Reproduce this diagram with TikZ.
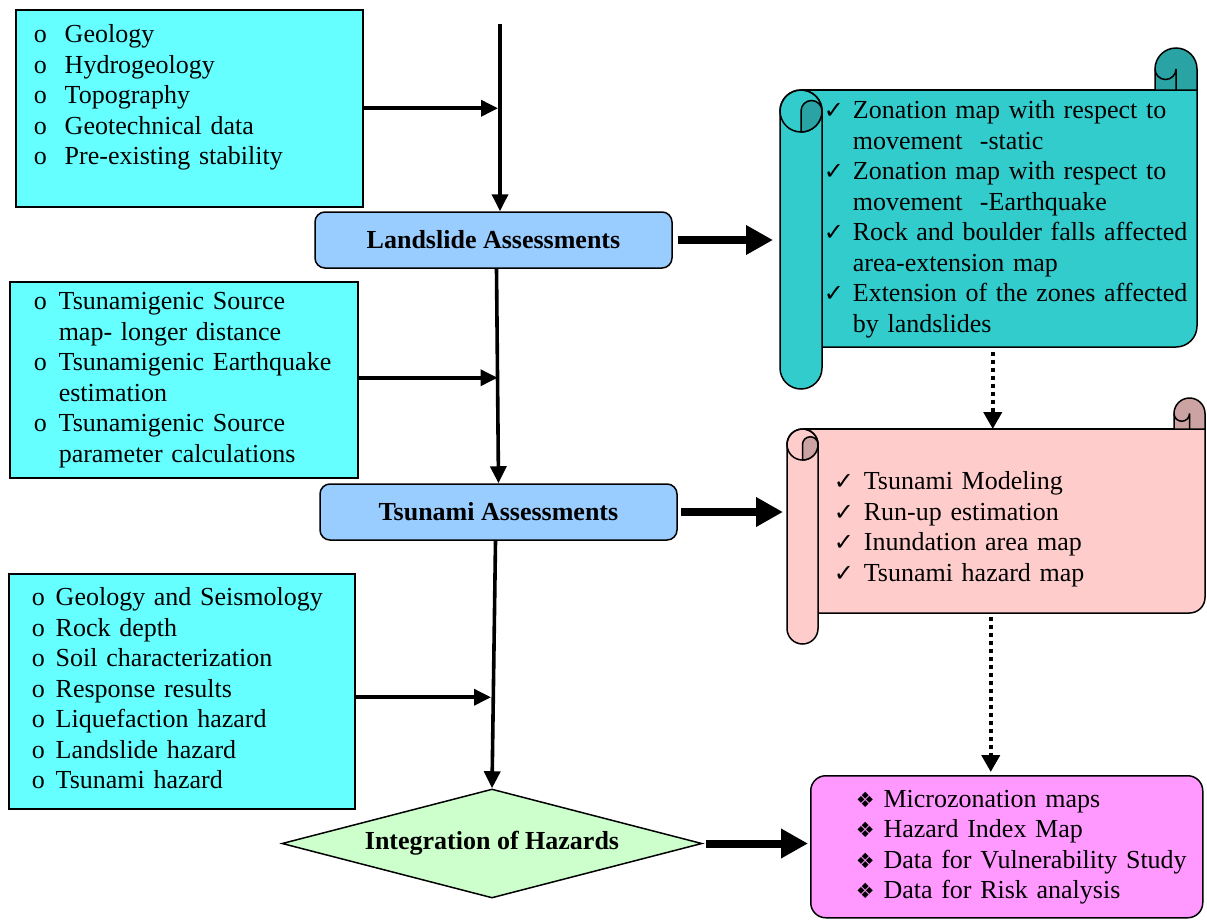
\documentclass[tikz,border=0pt]{standalone}
\usepackage{fontspec}
\setmainfont{Liberation Serif}
\newfontfamily\dejavusym{DejaVu Sans}
\usetikzlibrary{shapes.geometric,arrows.meta}

\definecolor{inputcyan}{HTML}{66FFFF}
\definecolor{assessblue}{HTML}{99CCFF}
\definecolor{scrollteal}{HTML}{33CCCC}
\definecolor{scrolltealdark}{HTML}{29A3A3}
\definecolor{scrollpink}{HTML}{FFCCCC}
\definecolor{scrollpinkdark}{HTML}{CCA3A3}
\definecolor{mergegreen}{HTML}{CCFFCC}
\definecolor{resultpink}{HTML}{FF99FF}

\newcommand{\tickmark}{{\dejavusym\fontsize{24}{24}\selectfont ✓}}
\newcommand{\diamark}{{\dejavusym\fontsize{21}{21}\selectfont ❖}}

% scroll: left, top, right, bottom, roll radius, colour, dark colour
\newcommand{\scrollshape}[7]{%
  \fill[#6] (#1+#5,#2) -- (#3-2*#5,#2) -- (#3-2*#5,#2+#5) arc[start angle=180,end angle=0,radius=#5] -- (#3,#4+#5) arc[start angle=0,end angle=-90,radius=#5] -- (#1+#5,#4) -- cycle;
  \filldraw[fill=#7] (#3-2*#5,#2) -- (#3-2*#5,#2+#5) arc[start angle=180,end angle=0,radius=#5] -- (#3,#2) -- cycle;
  \draw (#1+#5,#2) -- (#3-2*#5,#2);
  \draw (#3,#2) -- (#3,#4+#5) arc[start angle=0,end angle=-90,radius=#5] -- (#1+2*#5,#4);
  \draw (#3-2*#5,#2+#5) arc[start angle=180,end angle=360,radius=0.5*#5] -- (#3-#5,#2);
  \filldraw[fill=#6] (#1,#4-#5) -- (#1,#2-#5) arc[start angle=180,end angle=0,radius=#5] -- (#1+2*#5,#4-#5) arc[start angle=0,end angle=-180,radius=#5] -- cycle;
  \draw (#1+#5,#2-#5) circle[radius=#5];
  \filldraw[fill=#7] (#1+#5,#2-2*#5) -- (#1+#5,#2-#5) arc[start angle=180,end angle=0,radius=0.5*#5] arc[start angle=0,end angle=-90,radius=#5] -- cycle;
}

\tikzstyle{listbox} = [rectangle, draw, fill=inputcyan, align=left, inner ysep=0pt, anchor=north west]
\tikzstyle{assess} = [rectangle, rounded corners=10pt, draw, fill=assessblue, font=\fontsize{26}{30.5}\selectfont\bfseries, minimum width=357pt, minimum height=56pt]
\tikzstyle{scrolltext} = [rectangle, align=left, inner ysep=0pt, anchor=north west]
\tikzstyle{flow} = [line width=3.6pt, -{Triangle[length=17pt,width=16pt]}]
\tikzstyle{bigflow} = [line width=8pt, -{Triangle[length=27pt,width=28pt]}]
\tikzstyle{dotflow} = [line width=4pt, dash pattern=on 4pt off 4pt, -{Triangle[length=17pt,width=18pt]}]

\begin{document}
\begin{tikzpicture}[x=1pt, y=1pt, line width=1.5pt, font=\fontsize{26}{30.5}\selectfont]

\useasboundingbox (0,0) rectangle (1207,-919);

\scrollshape{780}{-90}{1197}{-347}{21}{scrollteal}{scrolltealdark}

\scrollshape{787}{-429}{1205}{-613}{15.5}{scrollpink}{scrollpinkdark}

\node [listbox, minimum width=347pt, minimum height=197pt, inner xsep=18pt, text width=311pt] (geo) at (15,-9) {\begin{tabular}{@{}l@{\hspace{18pt}}l@{}}
o & Geology\\
o & Hydrogeology\\
o & Topography\\
o & Geotechnical data\\
o & Pre-existing stability\\[21pt]
\end{tabular}};

\node [assess] (land) at (493.5,-240) {Landslide Assessments};

\node [listbox, minimum width=348pt, minimum height=196pt, inner xsep=24pt, text width=300pt] (src) at (9,-281) {\begin{tabular}{@{}l@{\hspace{12pt}}l@{}}
o & Tsunamigenic Source\\
  & map- longer distance\\
o & Tsunamigenic Earthquake\\
  & estimation\\
o & Tsunamigenic Source\\
  & parameter calculations
\end{tabular}};

\node [assess] (tsu) at (498.5,-512) {Tsunami Assessments};

\node [listbox, minimum width=346pt, minimum height=235pt, inner xsep=23pt, text width=300pt] (soil) at (8,-573) {\begin{tabular}{@{}l@{\hspace{11pt}}l@{}}
o & Geology and Seismology\\
o & Rock depth\\
o & Soil characterization\\
o & Response results\\
o & Liquefaction hazard\\
o & Landslide hazard\\
o & Tsunami hazard
\end{tabular}};

\node [diamond, draw, fill=mergegreen, aspect=3.85, inner sep=0pt, minimum width=420pt, minimum height=109pt, font=\fontsize{26}{30.5}\selectfont\bfseries] (integ) at (492,-843.5) {Integration of Hazards};

\node [scrolltext, minimum width=417pt, minimum height=257pt, inner xsep=43pt, text width=331pt] (zone) at (780,-90) {\begin{tabular}{@{}l@{\hspace{9pt}}l@{}}
\tickmark & Zonation map with respect to\\
          & movement\ \ -static\\
\tickmark & Zonation map with respect to\\
          & movement\ \ -Earthquake\\
\tickmark & Rock and boulder falls affected\\
          & area-extension map\\
\tickmark & Extension of the zones affected\\
          & by landslides
\end{tabular}};

\node [scrolltext, minimum width=418pt, minimum height=184pt, inner xsep=46pt, text width=326pt] (tsumap) at (787,-429) {\begin{tabular}{@{}l@{\hspace{10pt}}l@{}}
\rule{0pt}{37pt}\tickmark & Tsunami Modeling\\
\tickmark & Run-up estimation\\
\tickmark & Inundation area map\\
\tickmark & Tsunami hazard map
\end{tabular}};

\node [listbox, rounded corners=15pt, fill=resultpink, minimum width=392pt, minimum height=142pt, inner xsep=45pt, text width=302pt] (result) at (810,-775) {\begin{tabular}{@{}l@{\hspace{9pt}}l@{}}
\diamark & Microzonation maps\\
\diamark & Hazard Index Map\\
\diamark & Data for Vulnerability Study\\
\diamark & Data for Risk analysis
\end{tabular}};

\coordinate (feed) at (500,-24);

\draw [flow] (feed) -- (feed |- land.north);

\draw [flow, shorten >=2pt] (geo.east) -- (geo.east -| feed);

\draw [flow] ([xshift=3pt]land.south) -- (tsu.north);

\draw [flow, shorten >=1pt] ([yshift=2pt]src.east) -- ([yshift=2pt]src.east -| tsu.north);

\draw [flow] ([xshift=-3pt]tsu.south) -- (integ.north);

\draw [flow, shorten >=1pt] ([yshift=-6pt]soil.east) -- ([yshift=-6pt]soil.east -| integ.north);

\draw [bigflow, shorten >=7pt] ([xshift=5pt]land.east) -- (land.east -| zone.west);

\draw [bigflow, shorten >=4pt] ([xshift=3pt]tsu.east) -- (tsu.east -| tsumap.west);

\draw [bigflow, shorten >=2pt] ([xshift=3pt]integ.east) -- (integ.east -| result.west);

\draw [dotflow, shorten <=3pt] ([xshift=3.5pt]zone.south) -- ([xshift=3.5pt]zone.south |- tsumap.north);

\draw [dotflow, shorten <=2pt, shorten >=3pt] ([xshift=-6pt]tsumap.south) -- ([xshift=-6pt]tsumap.south |- result.north);

\end{tikzpicture}
\end{document}
